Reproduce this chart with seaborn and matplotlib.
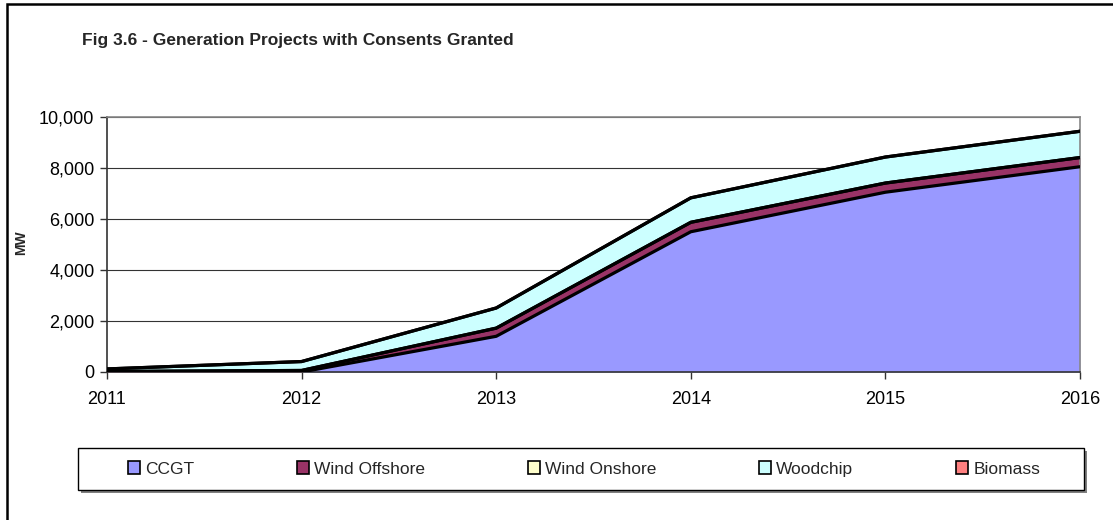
import matplotlib
matplotlib.use("Agg")
import matplotlib.pyplot as plt
import seaborn as sns
import numpy as np
from matplotlib.patches import Rectangle
from matplotlib.ticker import FuncFormatter

years = ["2011", "2012", "2013", "2014", "2015", "2016"]
series_names = ["CCGT", "Wind Offshore", "Wind Onshore", "Woodchip", "Biomass"]
ccgt = [0, 0, 1400, 5500, 7050, 8050]
wind_offshore = [20, 60, 320, 370, 360, 360]
wind_onshore = [0, 0, 0, 0, 0, 0]
woodchip = [100, 350, 790, 960, 1020, 1030]
biomass = [0, 0, 0, 0, 0, 0]
colors = ["#9999FF", "#993366", "#FFFFCC", "#CCFFFF", "#FF8080"]

sns.set_theme(style="white")
plt.rcParams["font.family"] = ["Liberation Sans", "DejaVu Sans"]

W, H = 1113, 520
fig = plt.figure(figsize=(W/100, H/100), dpi=100)
ax = fig.add_axes([107/W, 1-372/H, (1080-107)/W, (372-117)/H])

x = np.arange(len(years))
values = [ccgt, wind_offshore, wind_onshore, woodchip, biomass]
base = np.zeros(len(years))
handles = []
for name, vals, col in zip(series_names, values, colors):
    top = base + np.array(vals, dtype=float)
    ax.fill_between(x, base, top, color=col, linewidth=0, zorder=2)
    handles.append(Rectangle((0, 0), 1, 1, facecolor=col, edgecolor="black", linewidth=1.2, label=name))
    base = top

# outlines of stacked areas
base = np.zeros(len(years))
for vals in values:
    top = base + np.array(vals, dtype=float)
    sns.lineplot(x=x, y=top, color="black", linewidth=2.3, ax=ax, zorder=3, legend=False)
    base = top

ax.set_xlim(0, len(years) - 1)
ax.set_ylim(0, 10000)
ax.set_yticks(np.arange(0, 10001, 2000))
ax.yaxis.set_major_formatter(FuncFormatter(lambda v, p: f"{int(v):,}"))
ax.set_xticks(x)
ax.set_xticklabels(years)
ax.grid(axis="y", color="#333333", linewidth=0.8, zorder=1)
ax.grid(axis="x", visible=False)
ax.set_axisbelow(True)
ax.tick_params(axis="both", which="major", direction="out", length=5, width=1, color="#333333",
               labelsize=13, labelcolor="black", left=True, bottom=True)
ax.tick_params(axis="y", pad=4)
ax.tick_params(axis="x", pad=9)
for s in ["left", "bottom"]:
    ax.spines[s].set_color("#333333")
    ax.spines[s].set_linewidth(1.2)
for s in ["top", "right"]:
    ax.spines[s].set_color("#888888")
    ax.spines[s].set_linewidth(1.2)
ax.set_xlabel("")
ax.set_ylabel("")

fig.text(21/W, 1-243/H, "MW", rotation=90, fontsize=10, fontweight="bold", ha="center", va="center")
fig.text(82/W, 1-40/H, "Fig 3.6 - Generation Projects with Consents Granted",
         fontsize=12.5, fontweight="bold", ha="left", va="center")

# legend box with shadow
lx0, lx1, ly0, ly1 = 78, 1084, 448, 490
fig.patches.append(Rectangle(((lx0+3)/W, 1-(ly1+3)/H), (lx1-lx0)/W, (ly1-ly0)/H,
                             transform=fig.transFigure, facecolor="#808080", edgecolor="none", zorder=1))
fig.patches.append(Rectangle((lx0/W, 1-ly1/H), (lx1-lx0)/W, (ly1-ly0)/H,
                             transform=fig.transFigure, facecolor="white", edgecolor="black",
                             linewidth=1.0, zorder=2))
leg = fig.legend(handles=handles, loc="center", bbox_to_anchor=((lx0+lx1)/2/W + 3/W, 1-(ly0+ly1)/2/H),
                 ncol=5, fontsize=12.5, frameon=False, borderaxespad=0,
                 handlelength=0.7, handleheight=0.7, handletextpad=0.3, columnspacing=5.9)
leg.set_zorder(3)

# outer chart border (extends beyond right and bottom edges)
fig.patches.append(Rectangle((7/W, -0.1), 1.2, 1.1 - 4/H, transform=fig.transFigure,
                             fill=False, edgecolor="black", linewidth=1.8))

fig.savefig("out.png", dpi=100)
